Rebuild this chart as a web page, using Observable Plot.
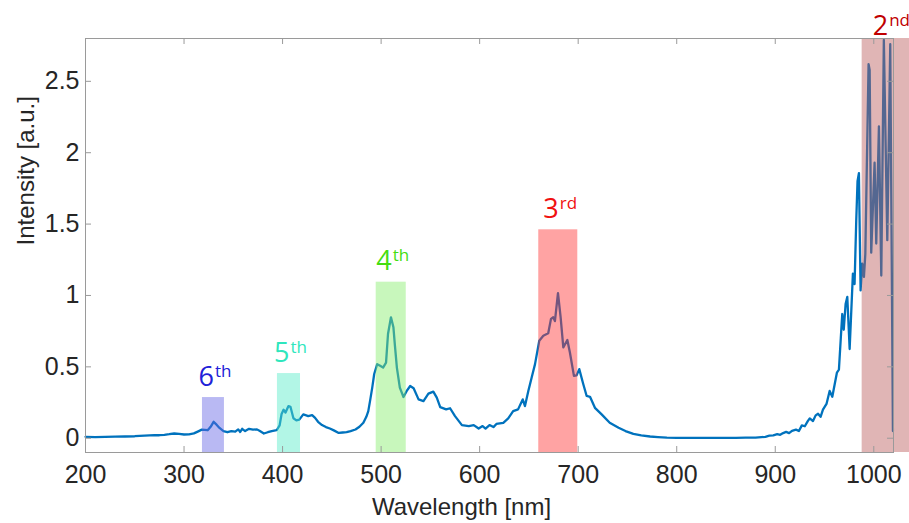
<!DOCTYPE html>
<html><head><meta charset="utf-8">
<script src="https://cdn.jsdelivr.net/npm/d3@7"></script>
<script src="https://cdn.jsdelivr.net/npm/@observablehq/plot@0.6"></script>
<style>body{margin:0;background:#fff;}</style>
</head><body><div id="chart"></div>
<script>
// Spectrum (wavelength in nm, intensity in a.u.)
const wavelength = [200,210,220,230,240,250,260,265,270,275,280,285,290,295,300,305,310,315,318,321,324,327,330,333,336,340,344,348,352,355,357,359,362,366,370,374,377,381,385,389,394,397,399,401,403,406,408,411,414,417,421,424,426,430,433,436,440,444,448,452,457,461,465,469,474,478,482,485,487,489,491,493,496,499,502,505,507,510,512.5,514,516,519,522.7,526,529.5,533,538,543,548,553,556.5,560,566,570,575,582,589,594,599,603,606,610,614,617,624,629,634,639,643.7,646,649.4,652.8,656.2,660.5,664.6,669.6,672.4,674.7,676.4,679.5,682.2,684.9,689,691.6,695.7,698.4,701.1,705.2,708.6,712,717,723.8,732,741,748,756,764,773,781,790,800,810,820,830,840,850,860,870,880,886,890,894,898,902,905,908,911,914,917,921,924,927,930,933,935,938.3,941,943.4,946,948.4,952,955.2,957.9,962.6,964.6,966.5,968,969.5,971.4,973.1,975.5,978.8,980.5,982.2,983.5,984.9,986.6,988.3,990,991.4,994.7,995.8,997.4,1000.8,1002.5,1005.2,1007.6,1010.2,1013.7,1016.7,1019.4];
const intensity = [0.010,0.008,0.010,0.011,0.012,0.014,0.018,0.020,0.022,0.021,0.024,0.028,0.033,0.030,0.026,0.027,0.034,0.050,0.060,0.058,0.056,0.080,0.115,0.095,0.072,0.050,0.042,0.050,0.046,0.062,0.044,0.066,0.050,0.066,0.060,0.062,0.050,0.033,0.042,0.050,0.056,0.090,0.170,0.200,0.180,0.225,0.220,0.140,0.125,0.130,0.167,0.160,0.155,0.162,0.143,0.115,0.092,0.078,0.068,0.055,0.037,0.040,0.042,0.050,0.061,0.080,0.108,0.150,0.190,0.270,0.354,0.450,0.519,0.507,0.495,0.530,0.730,0.847,0.777,0.650,0.495,0.354,0.289,0.331,0.366,0.350,0.272,0.260,0.312,0.326,0.284,0.218,0.202,0.210,0.155,0.092,0.085,0.092,0.068,0.085,0.068,0.092,0.078,0.100,0.108,0.139,0.190,0.202,0.272,0.225,0.331,0.425,0.519,0.683,0.718,0.735,0.836,0.847,0.820,1.016,0.847,0.636,0.688,0.600,0.437,0.440,0.484,0.378,0.296,0.290,0.213,0.167,0.108,0.073,0.050,0.030,0.020,0.012,0.008,0.004,0.003,0.002,0.003,0.002,0.003,0.002,0.003,0.004,0.004,0.008,0.010,0.018,0.020,0.028,0.024,0.036,0.044,0.036,0.052,0.060,0.050,0.090,0.084,0.120,0.139,0.120,0.160,0.171,0.150,0.200,0.240,0.331,0.290,0.460,0.480,0.700,0.870,0.760,0.940,0.990,0.625,1.153,1.080,1.528,1.800,1.857,1.035,1.223,1.130,1.290,2.620,2.580,1.300,1.930,1.364,2.185,1.140,2.790,1.387,2.760,0.050];

// Harmonic order bands
const orderNumber = ["6", "5", "4", "3", "2"];
const orderSuffix = ["th", "th", "th", "rd", "nd"];
const bandStart = [318.7, 394.8, 495, 660, 988.2];
const bandEnd = [341, 418.2, 525.5, 699.6, 1040];
const bandTop = [0.285, 0.453, 1.093, 1.46, 2.8];

// Axis ticks
const xTicks = [200, 300, 400, 500, 600, 700, 800, 900, 1000];
const yTicks = [0, 0.5, 1, 1.5, 2, 2.5];

const xDomain = [200, 1020];
const yDomain = [-0.1, 2.8];

const bandFill = {"6": "rgb(100,100,228)", "5": "rgb(84,235,199)", "4": "rgb(133,237,106)", "3": "rgb(255,51,51)", "2": "rgb(186,91,91)"};
const labelFill = {"6": "#2121d8", "5": "#2fe6bd", "4": "#44dd11", "3": "#f01010", "2": "#c00000"};

const spectrum = wavelength.map((w, i) => ({w, v: intensity[i]}));
const bands = orderNumber.map((n, i) => ({n, s: orderSuffix[i], start: bandStart[i], end: bandEnd[i], top: bandTop[i]}));
const lowBands = bands.filter(d => d.n !== "2");
const topBands = bands.filter(d => d.n === "2");

const W = 909, H = 523, mL = 85, mR = 16, mT = 38, mB = 71;
const innerW = W - mL - mR, innerH = H - mT - mB;
const gray = "#9a9a9a";
const labelFont = "'Open Sans', 'Noto Sans', sans-serif";

const labelMarks = (data, dyMain) => [
  Plot.text(data, {x: d => (d.start + d.end) / 2, y: "top", text: "n", textAnchor: "end", lineAnchor: "bottom",
    dx: 0.5, dy: dyMain, fontSize: 27, fontFamily: labelFont, fill: d => labelFill[d.n]}),
  Plot.text(data, {x: d => (d.start + d.end) / 2, y: "top", text: "s", textAnchor: "start", lineAnchor: "bottom",
    dx: 1.5, dy: dyMain - 9, fontSize: 17, fontFamily: labelFont, fill: d => labelFill[d.n]})
];

const chart = Plot.plot({
  width: W, height: H,
  marginLeft: mL, marginRight: mR, marginTop: mT, marginBottom: mB,
  style: {fontFamily: "'Liberation Sans', Arial, sans-serif", fontSize: "25px", color: "#262626", background: "#fff", overflow: "hidden"},
  x: {domain: xDomain},
  y: {domain: yDomain},
  color: {type: "identity"},
  marks: [
    Plot.line(spectrum, {x: "w", y: "v", stroke: "#0072BD", strokeWidth: 2.3}),
    Plot.rect(bands, {x1: "start", x2: "end", y1: () => yDomain[0], y2: "top", fill: d => bandFill[d.n], fillOpacity: 0.45}),
    Plot.frame({stroke: gray}),
    Plot.tickX(xTicks, {x: d => d, insetTop: innerH - 6, stroke: gray}),
    Plot.tickX(xTicks, {x: d => d, insetBottom: innerH - 6, stroke: gray}),
    Plot.tickY(yTicks, {y: d => d, insetRight: innerW - 6, stroke: gray}),
    Plot.tickY(yTicks, {y: d => d, insetLeft: innerW - 6, stroke: gray}),
    Plot.axisX({ticks: xTicks, tickSize: 0, tickPadding: 13, label: null, fontSize: 25, tickFormat: d => String(d)}),
    Plot.axisY({ticks: yTicks, tickSize: 0, tickPadding: 6, label: null, fontSize: 25, tickFormat: d => String(d)}),
    Plot.text(["Wavelength [nm]"], {frameAnchor: "bottom", dx: -28, dy: 62, lineAnchor: "bottom", fontSize: 24, fill: "#262626"}),
    Plot.text(["Intensity [a.u.]"], {frameAnchor: "left", dx: -52, rotate: -90, lineAnchor: "bottom", fontSize: 24, fill: "#262626"}),
    ...labelMarks(lowBands, -12),
    ...labelMarks(topBands, -4)
  ]
});
document.getElementById("chart").appendChild(chart);
</script>
</body></html>
